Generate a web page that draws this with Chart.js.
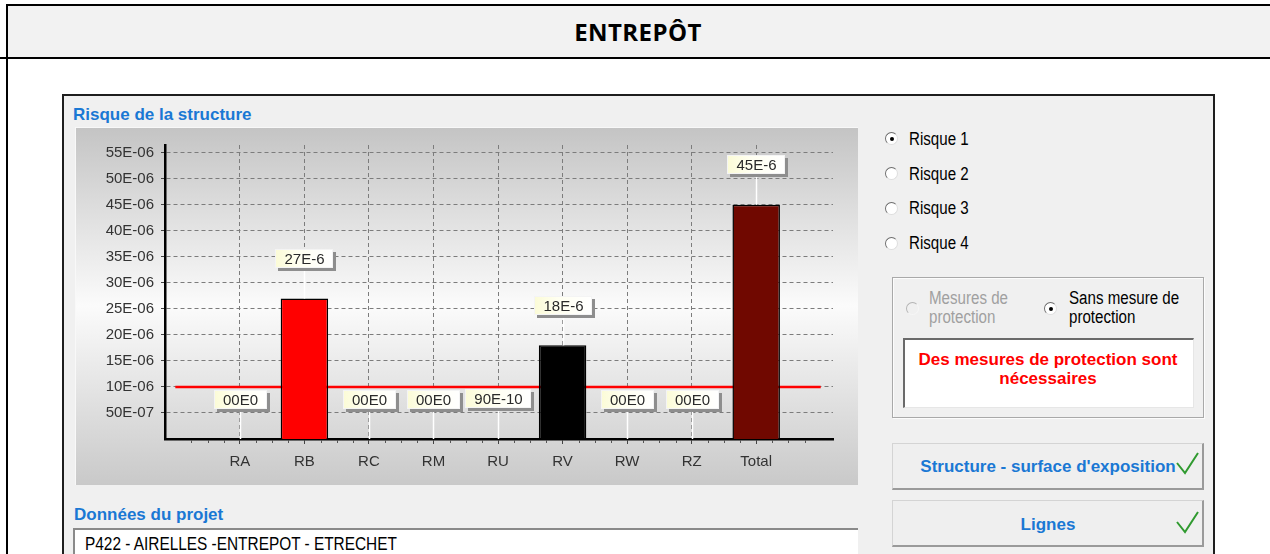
<!DOCTYPE html>
<html><head><meta charset="utf-8">
<script src="https://cdn.jsdelivr.net/npm/chart.js@4.4.1/dist/chart.umd.min.js"></script>
<style>
html,body{margin:0;padding:0;}
body{width:1270px;height:554px;overflow:hidden;background:#fff;position:relative;font-family:"Liberation Sans",Arial,sans-serif;}
.abs{position:absolute;}
.blk{position:absolute;background:#000;}
#hdrbg{left:8px;top:6px;width:1262px;height:51px;background:#f2f2f2;}
#hdrtxt{left:538px;top:17px;width:200px;text-align:center;font:700 24px "Open Sans",sans-serif;line-height:30px;letter-spacing:0.4px;color:#000;}
#dlg{left:62px;top:94px;width:1149px;height:470px;border:2px solid #1e1e1e;background:#f0f0f0;}
.ttl{position:absolute;font-weight:700;font-size:17px;line-height:19px;color:#1a78d4;white-space:nowrap;}
.ui{position:absolute;font-size:18px;line-height:19px;white-space:nowrap;transform:scaleX(0.84);transform-origin:0 0;color:#000;}
.radio{position:absolute;width:13px;height:13px;border-radius:50%;background:#fff;box-sizing:border-box;border:1px solid;border-color:#6d6d6d #dedede #dedede #6d6d6d;}
.radio.on::after{content:'';position:absolute;left:3.5px;top:3.5px;width:4px;height:4px;border-radius:50%;background:#000;}
.radio.dis{background:#f0f0f0;border-color:#b4b4b4 #f6f6f6 #f6f6f6 #b4b4b4;}
#chartWrap{left:75px;top:127px;width:783px;height:358px;}
#panelEdge{left:75px;top:127px;width:782px;height:357px;border-top:1px solid #f8f8f8;border-left:1px solid #f8f8f8;pointer-events:none;}
#grp{left:892px;top:277px;width:310px;height:139px;border:1px solid #a9a9a9;box-shadow:inset 1px 1px 0 #fcfcfc, 1px 1px 0 #fcfcfc;}
#msg{left:903px;top:338px;width:288px;height:67px;background:#fff;border-top:2px solid #6a6a6a;border-left:2px solid #6a6a6a;border-right:1px solid #e6e6e6;border-bottom:1px solid #e6e6e6;}
.msgt{position:absolute;left:903px;width:290px;text-align:center;font-weight:700;font-size:17px;line-height:19px;color:#ff0000;white-space:nowrap;}
.btn{position:absolute;left:892px;width:312px;background:#efefef;border-top:1px solid #d4d4d4;border-left:1px solid #d4d4d4;border-right:2px solid #9a9a9a;border-bottom:2px solid #9a9a9a;box-sizing:border-box;}
.btnt{position:absolute;left:892px;width:312px;text-align:center;font-weight:700;font-size:17px;line-height:19px;color:#1a78d4;white-space:nowrap;}
#tb{left:73px;top:528px;width:783px;height:40px;background:#fff;border-top:2px solid #8a8a8a;border-left:2px solid #8a8a8a;}
</style>
</head>
<body>
<div class="abs" id="hdrbg"></div>
<div class="blk" style="left:6px;top:4px;width:1264px;height:2px;"></div>
<div class="blk" style="left:0;top:57px;width:1270px;height:2px;"></div>
<div class="blk" style="left:6px;top:4px;width:2px;height:550px;"></div>
<div class="abs" id="hdrtxt">ENTREPÔT</div>

<div class="abs" id="dlg"></div>
<div class="ttl" style="left:73px;top:105px;">Risque de la structure</div>
<div class="abs" id="chartWrap"><canvas id="c" width="783" height="358"></canvas></div>
<div class="abs" id="panelEdge"></div>

<div class="ttl" style="left:74px;top:505px;">Données du projet</div>
<div class="abs" id="tb"></div>
<div class="ui" style="left:85px;top:535px;transform:scaleX(0.855);">P422 - AIRELLES -ENTREPOT - ETRECHET</div>

<div class="radio on" style="left:885px;top:132px;"></div>
<div class="ui" style="left:909px;top:130px;">Risque 1</div>
<div class="radio" style="left:885px;top:167px;"></div>
<div class="ui" style="left:909px;top:165px;">Risque 2</div>
<div class="radio" style="left:885px;top:202px;"></div>
<div class="ui" style="left:909px;top:199px;">Risque 3</div>
<div class="radio" style="left:885px;top:237px;"></div>
<div class="ui" style="left:909px;top:234px;">Risque 4</div>

<div class="abs" id="grp"></div>
<div class="radio dis" style="left:906px;top:302px;"></div>
<div class="ui" style="left:929px;top:289px;color:#a0a0a0;">Mesures de<br>protection</div>
<div class="radio on" style="left:1044px;top:302px;"></div>
<div class="ui" style="left:1069px;top:289px;">Sans mesure de<br>protection</div>
<div class="abs" id="msg"></div>
<div class="msgt" style="top:350px;">Des mesures de protection sont</div>
<div class="msgt" style="top:369px;">nécessaires</div>

<div class="btn" style="top:443px;height:47px;"></div>
<div class="btnt" style="top:457px;">Structure - surface d'exposition</div>
<svg class="abs" style="left:1176px;top:452px" width="24" height="23"><polyline points="1,11 9,21 22,1" fill="none" stroke="#2f9a2f" stroke-width="2"/></svg>
<div class="btn" style="top:500px;height:47px;"></div>
<div class="btnt" style="top:515px;">Lignes</div>
<svg class="abs" style="left:1176px;top:511px" width="24" height="23"><polyline points="1,11 9,21 22,1" fill="none" stroke="#2f9a2f" stroke-width="2"/></svg>

<script>
// ---- data ----
const categories = ['RA','RB','RC','RM','RU','RV','RW','RZ','Total'];
const riskValues = [0, 27e-6, 0, 0, 9e-10, 18e-6, 0, 0, 45e-6];
const valueLabels = ['00E0','27E-6','00E0','00E0','90E-10','18E-6','00E0','00E0','45E-6'];
const barColors = ['#ff0000','#ff0000','#ff0000','#ff0000','#000000','#000000','#000000','#000000','#700800'];
const yTickValues = [5e-6,10e-6,15e-6,20e-6,25e-6,30e-6,35e-6,40e-6,45e-6,50e-6,55e-6];
const yTickLabels = ['50E-07','10E-06','15E-06','20E-06','25E-06','30E-06','35E-06','40E-06','45E-06','50E-06','55E-06'];
const tolerableRisk = 1e-5;
const thresholdStart = -1;
const thresholdEnd = 9;

const FONT = '"Liberation Sans", Arial, sans-serif';
const X_MIN = -1.16, X_MAX = 9.19, Y_MAX = 56.5e-6;

const bgPlugin = {
  id: 'panelBg',
  beforeDraw(chart) {
    const {ctx, width, height} = chart;
    const g = ctx.createLinearGradient(0, 0, 0, height);
    g.addColorStop(0, '#c4c4c4');
    g.addColorStop(0.5, '#fbfbfb');
    g.addColorStop(1, '#c9c9c9');
    ctx.save();
    ctx.fillStyle = g;
    ctx.fillRect(0, 0, width, height);
    ctx.restore();
  }
};

const minorTickPlugin = {
  id: 'minorTicks',
  afterDraw(chart) {
    const xs = chart.scales.x, ctx = chart.ctx;
    const y0 = chart.chartArea.bottom;
    ctx.save();
    ctx.strokeStyle = '#555';
    ctx.lineWidth = 1;
    for (let v = Math.ceil(X_MIN * 4) / 4; v <= X_MAX; v += 0.25) {
      if (Math.abs(v - Math.round(v)) < 1e-6) continue;
      const px = Math.round(xs.getPixelForValue(v)) + 0.5;
      ctx.beginPath(); ctx.moveTo(px, y0 + 1); ctx.lineTo(px, y0 + 4); ctx.stroke();
    }
    ctx.restore();
  }
};

const labelPlugin = {
  id: 'valueLabels',
  afterDatasetsDraw(chart) {
    const idx = chart.data.datasets.findIndex(d => d.type !== 'line');
    const meta = chart.getDatasetMeta(idx);
    const ctx = chart.ctx;
    ctx.save();
    ctx.font = '15px ' + FONT;
    meta.data.forEach((el, i) => {
      const x = Math.round(el.x);
      const top = el.y;
      const cy = top - 40;
      const tw = ctx.measureText(valueLabels[i]).width;
      const w = Math.round(tw + 18), h = 19;
      const bx = Math.round(x - w / 2), by = Math.round(cy - h / 2);
      ctx.strokeStyle = '#ffffff';
      ctx.lineWidth = 1.5;
      ctx.beginPath(); ctx.moveTo(x + 0.5, by + h); ctx.lineTo(x + 0.5, top); ctx.stroke();
      ctx.fillStyle = '#8e8e8e';
      ctx.fillRect(bx + 3, by + 3, w, h);
      const g = ctx.createLinearGradient(bx, 0, bx + w, 0);
      g.addColorStop(0, '#fbfbd6');
      g.addColorStop(0.4, '#fffff0');
      g.addColorStop(1, '#ffffff');
      ctx.fillStyle = g;
      ctx.fillRect(bx, by, w, h);
      ctx.strokeStyle = '#f4f4f4';
      ctx.lineWidth = 1;
      ctx.strokeRect(bx + 0.5, by + 0.5, w - 1, h - 1);
      ctx.fillStyle = '#2a2a2a';
      ctx.textAlign = 'center';
      ctx.textBaseline = 'middle';
      ctx.fillText(valueLabels[i], x + 0.5, by + h / 2 + 1);
    });
    ctx.restore();
  }
};

new Chart(document.getElementById('c'), {
  type: 'bar',
  data: {
    datasets: [
      {
        type: 'line',
        data: [{x: thresholdStart, y: tolerableRisk}, {x: thresholdEnd, y: tolerableRisk}],
        borderColor: '#ff0000',
        borderWidth: 2.5,
        pointRadius: 0,
        order: 2
      },
      {
        type: 'bar',
        data: categories.map((c, i) => ({x: i, y: riskValues[i]})),
        backgroundColor: barColors,
        borderColor: '#000000',
        borderWidth: 1.5,
        borderSkipped: 'start',
        barPercentage: 0.736,
        categoryPercentage: 1,
        order: 1
      }
    ]
  },
  options: {
    responsive: false,
    animation: false,
    devicePixelRatio: 1,
    events: [],
    layout: {padding: {top: 18, right: 25, left: 0, bottom: 0}},
    plugins: {legend: {display: false}, tooltip: {enabled: false}},
    scales: {
      x: {
        type: 'linear',
        offset: false,
        min: X_MIN,
        max: X_MAX,
        afterBuildTicks: s => { s.ticks = categories.map((c, i) => ({value: i})); },
        afterFit: s => { s.height = 46; },
        ticks: {
          callback: (v) => categories[Math.round(v)] ?? '',
          font: {family: FONT, size: 15},
          color: '#333333',
          padding: 9,
          maxRotation: 0,
          autoSkip: false
        },
        grid: {offset: false, color: '#7c7c7c', lineWidth: 1, tickLength: 5, tickColor: '#444', tickBorderDash: []},
        border: {display: true, color: '#000000', width: 2.5, dash: [4, 3]}
      },
      y: {
        min: 0,
        max: Y_MAX,
        afterBuildTicks: s => { s.ticks = yTickValues.map(v => ({value: v})); },
        afterFit: s => { s.width = 90; },
        ticks: {
          callback: (v) => { const k = yTickValues.findIndex(t => Math.abs(t - v) < 1e-9); return k >= 0 ? yTickLabels[k] : ''; },
          font: {family: FONT, size: 15},
          color: '#333333',
          padding: 7
        },
        grid: {color: '#7c7c7c', lineWidth: 1, tickLength: 4, tickColor: '#444', tickBorderDash: []},
        border: {display: true, color: '#000000', width: 2.5, dash: [4, 3]}
      }
    }
  },
  plugins: [bgPlugin, minorTickPlugin, labelPlugin]
});
</script>
</body></html>
